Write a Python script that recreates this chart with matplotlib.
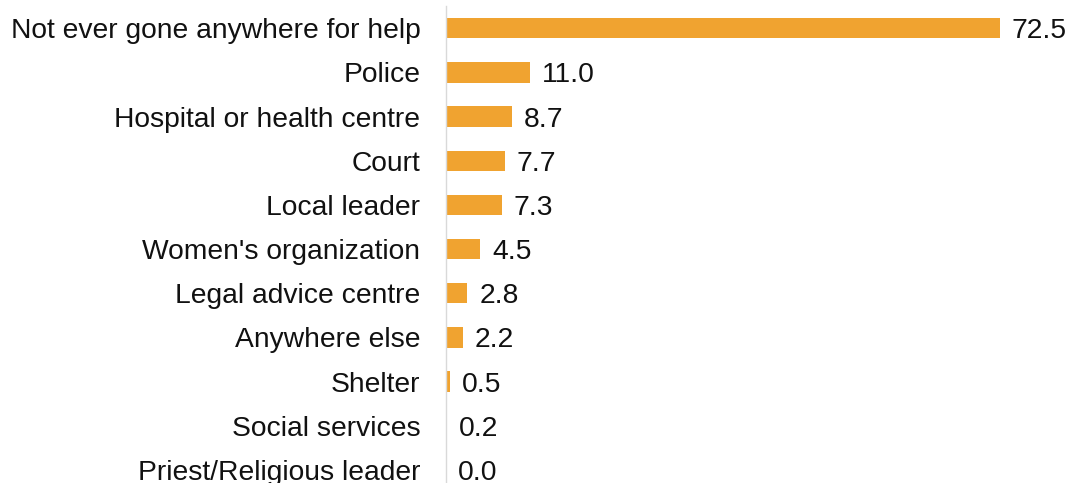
import matplotlib as mpl
mpl.use('Agg')
import matplotlib.pyplot as plt

categories = ['Not ever gone anywhere for help', 'Police', 'Hospital or health centre',
              'Court', 'Local leader', "Women's organization", 'Legal advice centre',
              'Anywhere else', 'Shelter', 'Social services', 'Priest/Religious leader']
values = [72.5, 11.0, 8.7, 7.7, 7.3, 4.5, 2.8, 2.2, 0.5, 0.2, 0.0]

plt.rcParams['font.family'] = ['Liberation Sans', 'DejaVu Sans']

fig = plt.figure(figsize=(10.71, 4.83), dpi=100)
ax = fig.add_axes([0.4164, -0.0186, 0.5706, 1.006])

pos = range(len(categories))
ax.barh(pos, values, height=0.46, color='#F0A330')
for y, v in zip(pos, values):
    ax.annotate(f'{v:.1f}', (v, y), xytext=(8.5, 0), textcoords='offset points',
                va='center_baseline', ha='left', fontsize=20.3, color='#111111')

ax.set_ylim(10.5, -0.5)
ax.set_xlim(0, 80)
ax.set_yticks(list(pos))
ax.set_yticklabels(categories, fontsize=20.3, color='#111111', va='center_baseline')
ax.tick_params(axis='y', length=0, pad=18.5)
ax.set_xticks([])
for s in ['top', 'right', 'bottom']:
    ax.spines[s].set_visible(False)
ax.spines['left'].set_color('#d9d9d9')
ax.spines['left'].set_linewidth(1)

fig.savefig('out.png', dpi=100)
